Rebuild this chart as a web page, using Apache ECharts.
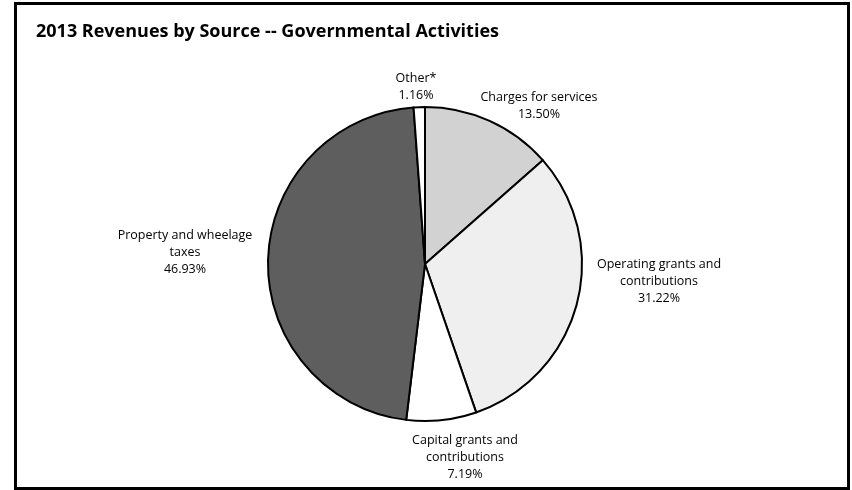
<!DOCTYPE html>
<html><head><meta charset="utf-8">
<script src="https://cdn.jsdelivr.net/npm/echarts@6/dist/echarts.min.js"></script>
<style>html,body{margin:0;padding:0;background:#fff}#c{width:852px;height:490px}
#frame{position:absolute;left:14px;top:2px;width:830px;height:482px;border:3px solid #000;pointer-events:none}</style>
</head><body><div id="c"></div><div id="frame"></div>
<script>
const categories = ["Charges for services", "Operating grants and contributions", "Capital grants and contributions", "Property and wheelage taxes", "Other*"];
const labelTexts = ["Charges for services", "Operating grants and\ncontributions", "Capital grants and\ncontributions", "Property and wheelage\ntaxes", "Other*"];
const values = [13.50, 31.22, 7.19, 46.93, 1.16];
const fills = ["#d2d2d2", "#efefef", "#ffffff", "#5e5e5e", "#ffffff"];
const labelPos = [[539, 106], [659, 281], [465, 457], [185, 252], [416, 87]];

const chart = echarts.init(document.getElementById('c'));
chart.setOption({
  animation: false,
  title: {
    text: "2013 Revenues by Source -- Governmental Activities",
    left: 31, top: 18,
    textStyle: {fontFamily: "Open Sans", fontWeight: "bold", fontSize: 18, color: "#000"}
  },
  series: [{
    type: 'pie',
    center: [425, 264],
    radius: [0, 157],
    startAngle: 90,
    clockwise: true,
    data: categories.map((c, i) => ({
      name: c, value: values[i],
      itemStyle: {color: fills[i]},
      label: {formatter: labelTexts[i] + "\n" + values[i].toFixed(2) + "%"}
    })),
    itemStyle: {borderColor: "#000", borderWidth: 2},
    label: {
      show: true, position: 'outside', fontFamily: "Open Sans", fontSize: 12.5,
      color: "#000", lineHeight: 17, align: 'center'
    },
    labelLine: {show: false},
    labelLayout: function (p) {
      const pos = labelPos[p.dataIndex];
      return {x: pos[0], y: pos[1], align: 'center', verticalAlign: 'middle'};
    },
    emphasis: {disabled: true}
  }]
});
</script></body></html>
